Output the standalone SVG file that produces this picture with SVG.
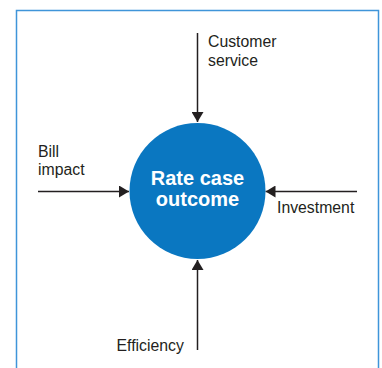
<svg xmlns="http://www.w3.org/2000/svg" width="382" height="368" viewBox="0 0 382 368">
<defs>
<style>
.lbl{font-family:"Liberation Sans",Arial,sans-serif;font-size:15.8px;fill:#231f20}
.ctr{font-family:"Liberation Sans",Arial,sans-serif;font-size:20px;font-weight:bold;fill:#ffffff;text-anchor:middle}
.con{stroke:#231f20;stroke-width:1.5;fill:none;marker-end:url(#ah)}
</style>
<marker id="ah" viewBox="0 0 10 12" refX="10" refY="6" markerWidth="10" markerHeight="12" markerUnits="userSpaceOnUse" orient="auto">
<path d="M0,0 L10,6 L0,12 z" fill="#231f20"/>
</marker>
</defs>
<rect width="382" height="368" fill="#ffffff"/>
<path d="M16.5,372 V10.5 H378.5 V372" fill="none" stroke="#3f95d9" stroke-width="1.5"/>
<g id="connectors">
<line class="con" x1="197.5" y1="33" x2="197.5" y2="122"/>
<line class="con" x1="38" y1="191.5" x2="129" y2="191.5"/>
<line class="con" x1="357" y1="191.5" x2="265.5" y2="191.5"/>
<line class="con" x1="197.5" y1="350" x2="197.5" y2="260"/>
</g>
<g id="center">
<circle cx="197.5" cy="191" r="68" fill="#0a77c1"/>
<text class="ctr" x="197.5" y="185">Rate case</text>
<text class="ctr" x="197.5" y="205.5">outcome</text>
</g>
<g id="customer-service">
<text class="lbl" x="208" y="47">Customer</text>
<text class="lbl" x="208" y="66">service</text>
</g>
<g id="bill-impact">
<text class="lbl" x="38" y="157">Bill</text>
<text class="lbl" x="38" y="175">impact</text>
</g>
<g id="investment">
<text class="lbl" x="277" y="213">Investment</text>
</g>
<g id="efficiency">
<text class="lbl" x="116.5" y="351">Efficiency</text>
</g>
</svg>
